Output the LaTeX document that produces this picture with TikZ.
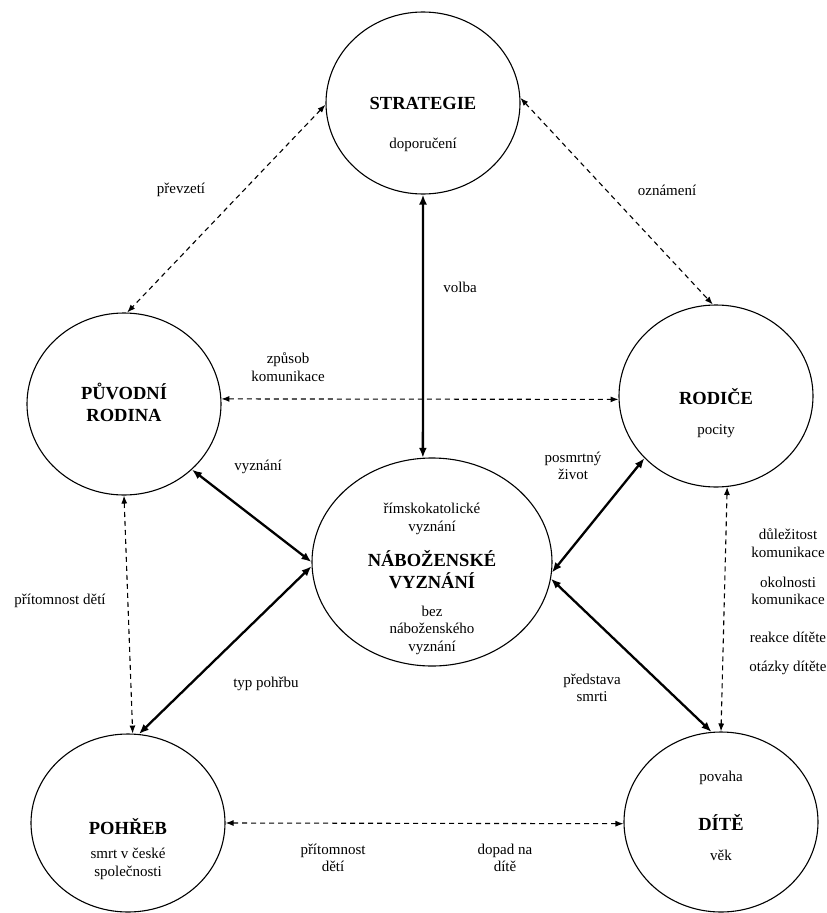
\documentclass[tikz,border=0pt]{standalone}
\usepackage{fontspec}
\setmainfont{Liberation Serif}
\usetikzlibrary{shapes.geometric,arrows.meta}
\begin{document}
\begin{tikzpicture}[x=1pt,y=-1pt,
  circ/.style={draw, ellipse, line width=1.1pt, minimum width=194pt, minimum height=182pt, inner sep=0pt},
  bigcirc/.style={circ, minimum width=240pt, minimum height=208pt},
  ttl/.style={font=\rmfamily\bfseries\fontsize{18.5}{22}\selectfont, align=center, inner sep=0pt},
  lbl/.style={font=\rmfamily\fontsize{15}{17.5}\selectfont, align=center, inner sep=0pt},
  dsh/.style={line width=1.1pt, dash pattern=on 5pt off 4pt, {Latex[length=8pt,width=6pt]}-{Latex[length=8pt,width=6pt]}},
  thk/.style={line width=2.3pt, {Latex[length=10pt,width=8pt]}-{Latex[length=10pt,width=8pt]}},
]
\useasboundingbox (0,0) rectangle (827,913);
% circles
\node[circ] (S) at (423,103) {};
\node[circ] (P) at (124,404) {};
\node[circ] (R) at (716,396) {};
\node[bigcirc] (N) at (432,562) {};
\node[circ, minimum height=178pt] (H) at (128,823) {};
\node[circ, minimum height=180pt] (D) at (721,822) {};
% texts in circles
\node[ttl] (St) at (423,103) {STRATEGIE};
\node[lbl] (Ss) at (423,145) {doporučení};
\node[ttl] (Pt) at (124,402) {PŮVODNÍ\\RODINA};
\node[ttl] (Rt) at (716,397) {RODIČE};
\node[lbl] (Rs) at (716,431) {pocity};
\node[lbl] (Na) at (432,519) {římskokatolické\\vyznání};
\node[ttl] (Nt) at (432,570) {NÁBOŽENSKÉ\\VYZNÁNÍ};
\node[lbl] (Nb) at (432,630) {bez\\náboženského\\vyznání};
\node[ttl] (Ht) at (128,827) {POHŘEB};
\node[lbl] (Hs) at (128,864) {smrt v české\\společnosti};
\node[lbl] (Da) at (721,778) {povaha};
\node[ttl] (Dt) at (721,822) {DÍTĚ};
\node[lbl] (Db) at (721,855) {věk};
% connectors
\draw[dsh] (S.181) -- (P.88);
\draw[dsh] (S.3) -- (R.92);
\draw[thk] (S.270) -- (N.95);
\draw[dsh] (P.3) -- (R.182);
\draw[thk] (P.316) -- (N.180.5);
\draw[thk] (N.182) -- (H.83.5);
\draw[dsh] (P.270) -- (H.87);
\draw[thk] (N.355) -- (R.221);
\draw[thk] (N.352.5) -- (D.96);
\draw[dsh] (R.277) -- (D.90);
\draw[dsh] (H.0) -- (D.181);
% connector labels
\node[lbl] (l1) at (181,190) {převzetí};
\node[lbl] (l2) at (667,190) {oznámení};
\node[lbl] (l3) at (460,287) {volba};
\node[lbl] (l4) at (288,367) {způsob\\komunikace};
\node[lbl] (l5) at (573,466) {posmrtný\\život};
\node[lbl] (l6) at (258,467) {vyznání};
\node[lbl] (l7) at (60,601) {přítomnost dětí};
\node[lbl] (l8) at (266,684) {typ pohřbu};
\node[lbl] (l9) at (592,688) {představa\\smrti};
\node[lbl] (l10) at (788,543) {důležitost\\komunikace};
\node[lbl] (l11) at (788,591) {okolnosti\\komunikace};
\node[lbl] (l12) at (788,637) {reakce dítěte};
\node[lbl] (l13) at (788,668) {otázky dítěte};
\node[lbl] (l14) at (333,858) {přítomnost\\dětí};
\node[lbl] (l15) at (505,858) {dopad na\\dítě};
\end{tikzpicture}
\end{document}
